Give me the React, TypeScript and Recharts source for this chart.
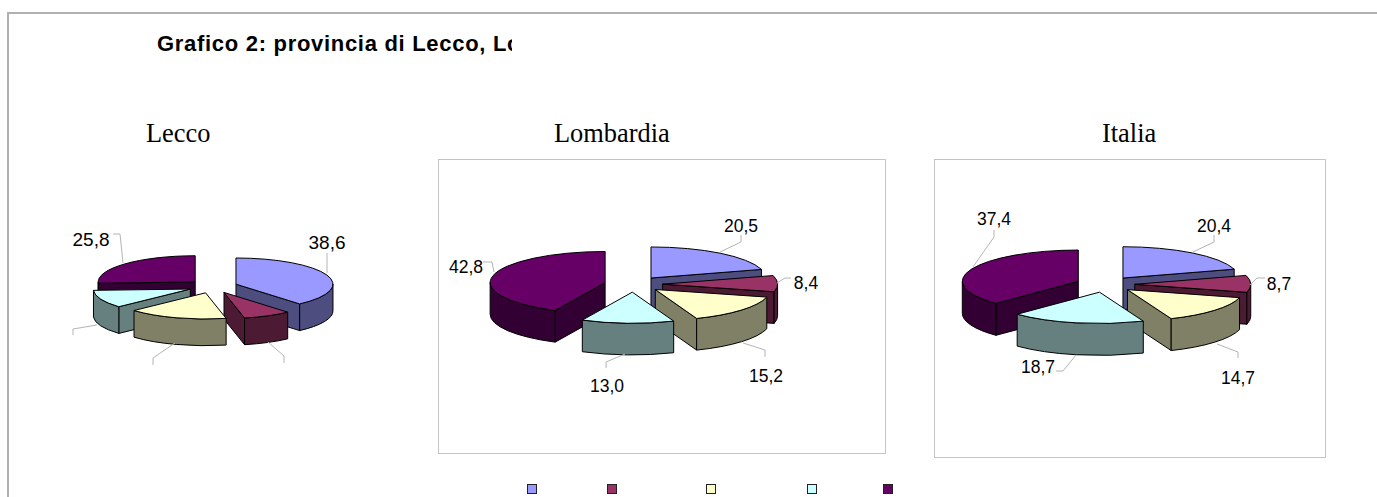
import { Pie, PieChart } from "recharts"

const categories = ["cat1", "cat2", "cat3", "cat4", "cat5"]
const leccoValues = [38.6, 8.0, 16.6, 11.0, 25.8]
const lombardiaValues = [20.5, 8.4, 15.2, 13.0, 42.8]
const italiaValues = [20.4, 8.7, 14.7, 18.7, 37.4]

// unlabelled slices in the Lecco pie keep their leader but show no number
const leccoLabels = ["38,6", "", "", "", "25,8"]
const lombardiaLabels = ["20,5", "8,4", "15,2", "13,0", "42,8"]
const italiaLabels = ["20,4", "8,7", "14,7", "18,7", "37,4"]

const topColors = ["#9999FF", "#993366", "#FFFFCC", "#CCFFFF", "#660066"]
const sideColors = ["#4D4D80", "#4D1A33", "#808066", "#668080", "#330033"]

const legendX = [527, 607, 706, 807, 883]

const WIDTH = 1377
const HEIGHT = 497
const TILT = 0.27
const DEPTH = 0.275
const EXPLODE = 0.253

type Leader = { text: [number, number]; line: [number, number][] }

const leccoLeaders: Leader[] = [
  { text: [327, 242], line: [[327, 273], [327, 253]] },
  { text: [284, 370], line: [[268, 342], [284, 356], [284, 363]] },
  { text: [153, 372], line: [[175, 343], [153, 358], [153, 365]] },
  { text: [73, 342], line: [[97, 325], [73, 329], [73, 335]] },
  { text: [91, 239], line: [[113, 234], [120, 234], [123, 263]] },
]
const lombardiaLeaders: Leader[] = [
  { text: [741, 226], line: [[720, 252], [741, 242], [741, 235]] },
  { text: [806, 283], line: [[777, 283], [785, 278], [791, 278]] },
  { text: [766, 376], line: [[743, 343], [765, 350], [765, 357]] },
  { text: [607, 386], line: [[625, 354], [606, 362], [606, 368]] },
  { text: [466, 267], line: [[483, 262], [492, 262], [494, 272]] },
]
const italiaLeaders: Leader[] = [
  { text: [1214, 226], line: [[1193, 252], [1214, 242], [1214, 235]] },
  { text: [1279, 284], line: [[1250, 285], [1257, 278], [1265, 278]] },
  { text: [1238, 378], line: [[1217, 344], [1238, 352], [1238, 358]] },
  { text: [1038, 367], line: [[1076, 355], [1063, 371], [1056, 371]] },
  { text: [994, 219], line: [[973, 267], [994, 237], [994, 230]] },
]

const rad = (deg: number) => (deg * Math.PI) / 180

function Slice(props: any) {
  const { cx, cy, outerRadius, startAngle, endAngle, midAngle, index, layer } = props
  if (index !== layer) return <g />
  const rx = outerRadius
  const ry = rx * TILT
  const depth = rx * DEPTH
  const t1 = 90 - startAngle
  const t2 = 90 - endAngle
  const mid = 90 - midAngle
  const ax = cx + rx * EXPLODE * Math.sin(rad(mid))
  const ay = cy - ry * EXPLODE * Math.cos(rad(mid))
  const rim = (t: number): [number, number] => [ax + rx * Math.sin(rad(t)), ay - ry * Math.cos(rad(t))]
  const [x1, y1] = rim(t1)
  const [x2, y2] = rim(t2)
  const large = t2 - t1 > 180 ? 1 : 0
  const top = `M${ax},${ay} L${x1},${y1} A${rx},${ry} 0 ${large} 1 ${x2},${y2} Z`
  const side = sideColors[index]
  const a = Math.max(t1, 90)
  const b = Math.min(t2, 270)
  let outer = ""
  if (b > a) {
    const [px, py] = rim(a)
    const [qx, qy] = rim(b)
    outer = `M${px},${py} A${rx},${ry} 0 0 1 ${qx},${qy} L${qx},${qy + depth} A${rx},${ry} 0 0 0 ${px},${py + depth} Z`
  }
  const face = (x: number, y: number) => `M${ax},${ay} L${x},${y} L${x},${y + depth} L${ax},${ay + depth} Z`
  const common = { fill: side, stroke: "#000", strokeWidth: 1, strokeLinejoin: "round" as const }
  return (
    <g>
      {Math.sin(rad(t1)) < -0.001 && <path d={face(x1, y1)} {...common} />}
      {Math.sin(rad(t2)) > 0.001 && <path d={face(x2, y2)} {...common} />}
      {outer && <path d={outer} {...common} />}
      <path d={top} fill={topColors[index]} stroke="#000" strokeWidth={1} strokeLinejoin="round" />
    </g>
  )
}

// back slices first, so the nearer ones cover them
function drawOrder(values: number[]) {
  const total = values.reduce((s, v) => s + v, 0)
  let run = 0
  const mids = values.map((v, i) => {
    const m = ((run + v / 2) / total) * 2 * Math.PI
    run += v
    return { i, c: Math.cos(m) }
  })
  return mids.sort((p, q) => q.c - p.c).map((m) => m.i)
}

function leaderLabel(labels: string[], leaders: Leader[], fontSize: number) {
  return (props: any) => {
    const { index } = props
    const l = leaders[index]
    return (
      <g>
        <polyline points={l.line.map((p) => p.join(",")).join(" ")} fill="none" stroke="#b4b4b4" strokeWidth={1} />
        {labels[index] && (
          <text
            x={l.text[0]}
            y={l.text[1]}
            textAnchor="middle"
            dominantBaseline="central"
            fontFamily="'Liberation Sans', Arial, sans-serif"
            fontSize={fontSize}
            fill="#000"
          >
            {labels[index]}
          </text>
        )}
      </g>
    )
  }
}

function pieLayers(
  key: string,
  values: number[],
  cx: number,
  cy: number,
  r: number,
  labels: string[],
  leaders: Leader[],
  fontSize: number,
) {
  const data = categories.map((name, i) => ({ name, value: values[i] }))
  const order = drawOrder(values)
  const layers = order.map((layer) => (
    <Pie
      key={key + layer}
      data={data}
      dataKey="value"
      nameKey="name"
      cx={cx}
      cy={cy}
      outerRadius={r}
      startAngle={90}
      endAngle={-270}
      stroke="none"
      isAnimationActive={false}
      shape={(p: any) => <Slice {...p} layer={layer} />}
    />
  ))
  layers.push(
    <Pie
      key={key + "labels"}
      data={data}
      dataKey="value"
      nameKey="name"
      cx={cx}
      cy={cy}
      outerRadius={r}
      startAngle={90}
      endAngle={-270}
      isAnimationActive={false}
      shape={() => <g />}
      labelLine={false}
      label={leaderLabel(labels, leaders, fontSize)}
    />,
  )
  return layers
}

const titleStyle: React.CSSProperties = {
  position: "absolute",
  fontFamily: "'Liberation Serif', 'Times New Roman', serif",
  fontSize: 26.4,
  lineHeight: "30px",
  color: "#000",
  whiteSpace: "nowrap",
}

function frame(left: number, top: number, width: number, height: number): React.CSSProperties {
  return { position: "absolute", left, top, width, height, border: "1px solid #c4c4c4", boxSizing: "border-box", background: "#fff" }
}

export default function App() {
  return (
    <div style={{ position: "absolute", left: 0, top: 0, width: WIDTH, height: HEIGHT, background: "#fff", overflow: "hidden" }}>
      <div style={{ position: "absolute", left: 7, top: 12, width: WIDTH, height: 1.5, background: "#b0b0b0" }} />
      <div style={{ position: "absolute", left: 7, top: 12, width: 1.5, height: HEIGHT, background: "#b0b0b0" }} />
      <div style={frame(438, 159, 448, 295)} />
      <div style={frame(934, 159, 392, 299)} />
      {/* the source image crops this heading inside the "o" */}
      <div
        style={{
          position: "absolute",
          left: 157,
          top: 32,
          width: 355,
          overflow: "hidden",
          whiteSpace: "nowrap",
          fontFamily: "'Liberation Sans', Arial, sans-serif",
          fontWeight: "bold",
          fontSize: 22,
          letterSpacing: 0.7,
          lineHeight: "24px",
          color: "#000",
        }}
      >
        Grafico 2: provincia di Lecco, Lo
      </div>
      <div style={{ ...titleStyle, left: 146, top: 118 }}>Lecco</div>
      <div style={{ ...titleStyle, left: 554, top: 118 }}>Lombardia</div>
      <div style={{ ...titleStyle, left: 1102, top: 118 }}>Italia</div>
      <div style={{ position: "absolute", left: 0, top: 0 }}>
        <PieChart width={WIDTH} height={HEIGHT} margin={{ top: 0, right: 0, bottom: 0, left: 0 }}>
          {pieLayers("lecco", leccoValues, 213, 286.5, 97, leccoLabels, leccoLeaders, 19)}
          {pieLayers("lomb", lombardiaValues, 633.5, 284.3, 115, lombardiaLabels, lombardiaLeaders, 17.5)}
          {pieLayers("ita", italiaValues, 1105.4, 284.4, 116, italiaLabels, italiaLeaders, 17.5)}
        </PieChart>
      </div>
      {legendX.map((x, i) => (
        <div
          key={categories[i]}
          style={{
            position: "absolute",
            left: x,
            top: 484,
            width: 10,
            height: 10,
            boxSizing: "border-box",
            background: topColors[i],
            border: "1px solid #222",
          }}
        />
      ))}
    </div>
  )
}
